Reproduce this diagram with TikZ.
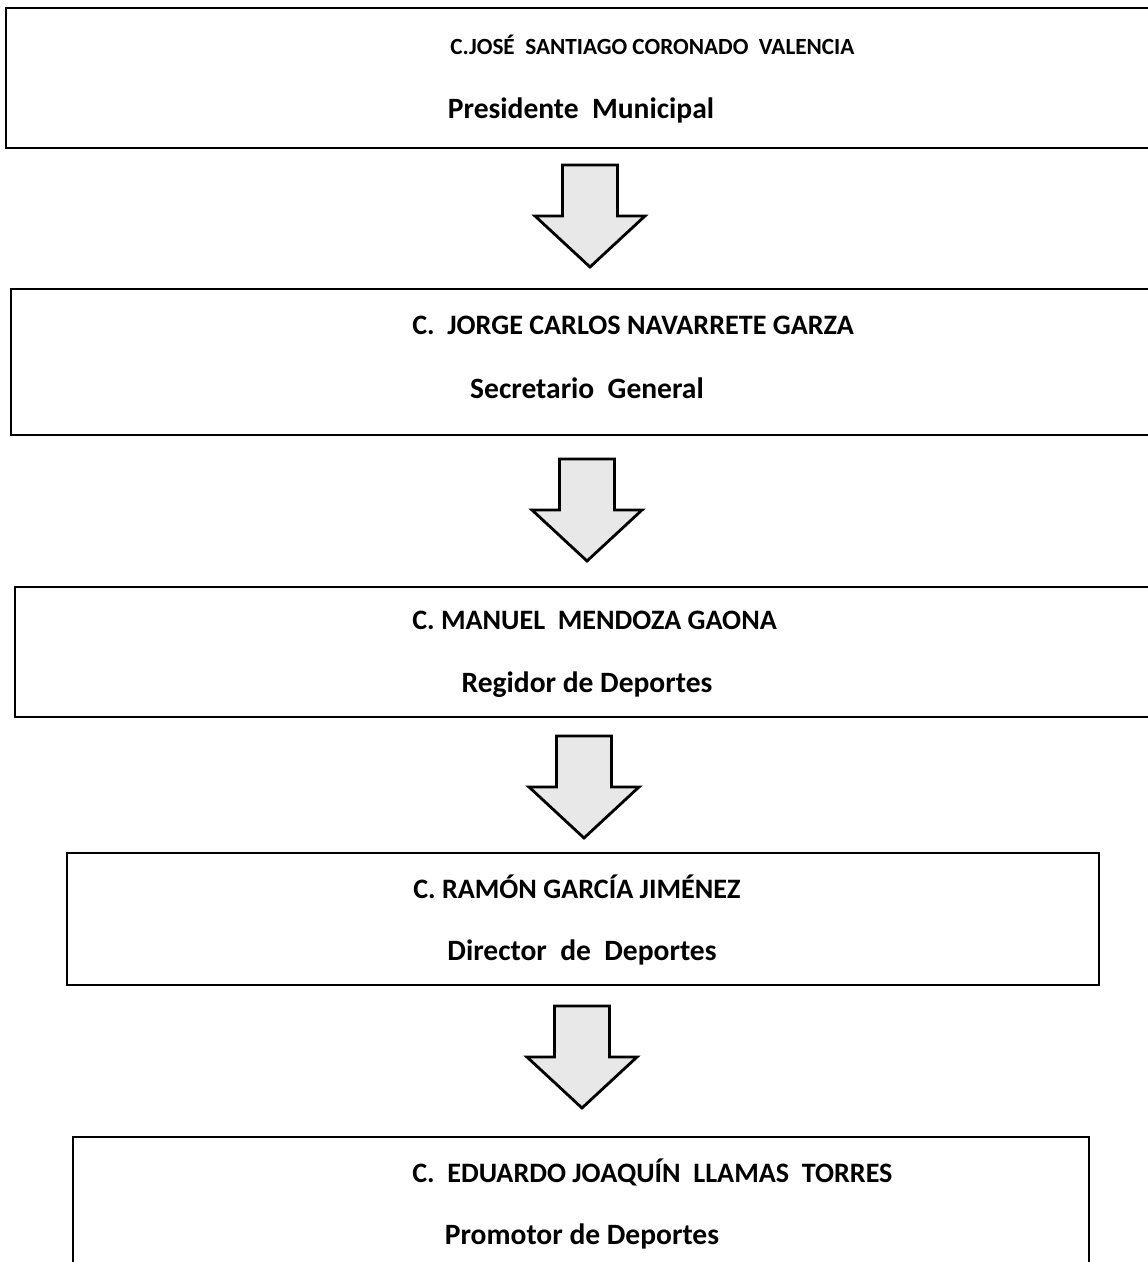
\documentclass[tikz,border=0pt]{standalone}
\usepackage{fontspec}
\setmainfont{Carlito}
\usepackage{tikz}
\usetikzlibrary{positioning}
\tikzset{box/.style = {draw, line width=1.2pt, inner sep=0pt},
         lbl/.style = {font=\fontsize{21}{23}\selectfont\bfseries, inner sep=0pt},
         namelbl/.style = {font=\fontsize{20}{22}\selectfont\bfseries, inner sep=0pt, anchor=west},
         blockarrow/.style = {draw, line width=2pt, line join=miter, fill=gray!18}}
\newcommand{\downarrowat}[2]{% top centre of the shaft
  \draw [blockarrow] (#1, #2) ++(-27.5, 0) -- ++(55, 0) -- ++(0, 51) -- ++(27.5, 0)
        -- ++(-55, 51) -- ++(-55, -51) -- ++(27.5, 0) -- cycle;}

\begin{document}
\begin{tikzpicture}[x=0.025cm, y=-0.025cm]
      \clip (0, 0) rectangle (1148, 1262);

      % boxes (the first three run past the right edge)
      \node [box, minimum width=28.85cm, minimum height=3.5cm] (pres) at (583, 78) {};
      \node [box, minimum width=28.725cm, minimum height=3.65cm] (secr) at (585.5, 362) {};
      \node [box, minimum width=28.625cm, minimum height=3.25cm] (regi) at (587.5, 652) {};
      \node [box, minimum width=25.8cm, minimum height=3.3cm] (dire) at (583, 919) {};
      \node [box, minimum width=25.4cm, minimum height=3.575cm] (prom) at (581, 1208.5) {};

      \node [namelbl, font=\fontsize{16.5}{18}\selectfont\bfseries] (presname) at (450, 45) {C.JOSÉ~ SANTIAGO CORONADO~ VALENCIA};
      \node [lbl] (prestitle) at (581, 110) {Presidente~ Municipal};
      \node [namelbl] (secrname) at (412, 325) {C.~ JORGE CARLOS NAVARRETE GARZA};
      \node [lbl] (secrtitle) at (587, 388) {Secretario~ General};
      \node [namelbl] (reginame) at (412, 620) {C. MANUEL~ MENDOZA GAONA};
      \node [lbl] (regititle) at (587, 685) {Regidor de Deportes};
      \node [namelbl] (direname) at (413, 887) {C. RAMÓN GARCÍA JIMÉNEZ};
      \node [lbl] (diretitle) at (582, 952) {Director~ de~ Deportes};
      \node [namelbl] (promname) at (412, 1172) {C.~ EDUARDO JOAQUÍN~ LLAMAS~ TORRES};
      \node [lbl] (promtitle) at (582, 1236) {Promotor de Deportes};

      \downarrowat{590}{165}
      \downarrowat{587}{459}
      \downarrowat{584}{736}
      \downarrowat{582}{1006}
    \end{tikzpicture}
\end{document}
